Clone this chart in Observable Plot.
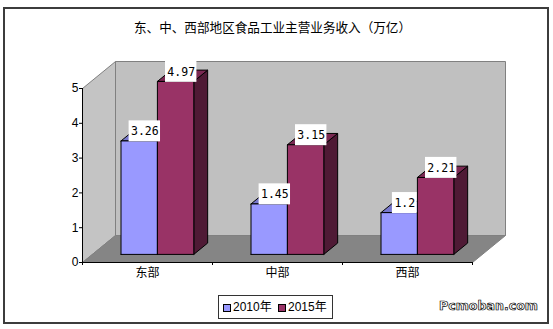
<!DOCTYPE html>
<html><head><meta charset="utf-8">
<script src="https://cdn.jsdelivr.net/npm/d3@7"></script>
<script src="https://cdn.jsdelivr.net/npm/@observablehq/plot@0.6"></script>
<style>
html,body{margin:0;padding:0;background:#fff;}
#wrap{position:relative;width:553px;height:329px;overflow:hidden;background:#fff;}
#border{position:absolute;left:3px;top:7px;width:542px;height:313px;border:2px solid #3c3c3c;}
#title{position:absolute;left:0;width:545px;top:19px;line-height:16px;text-align:center;font-family:"Noto Sans CJK SC",sans-serif;font-size:12.6px;color:#000;}
#chart{position:absolute;left:0;top:0;}
#legend{position:absolute;left:218px;top:295px;width:113px;height:22px;border:1px solid #333;background:#fff;font-family:"Liberation Sans","Noto Sans CJK SC",sans-serif;font-size:12px;line-height:22px;}
#legend .sw{position:absolute;top:8px;width:6px;height:6px;border:1px solid #000;}
#legend .lb{position:absolute;top:0;}
#wm{position:absolute;left:439px;top:298px;font-family:"DejaVu Sans",sans-serif;font-size:12.6px;font-weight:bold;color:#fff;-webkit-text-stroke:0.7px #000;line-height:16px;}
</style></head>
<body>
<div id="wrap">
  <div id="border"></div>
  <div id="chart"></div>
  <div id="title"></div>
  <div id="legend"></div>
  <div id="wm">Pcmoban.com</div>
</div>
<script>
// ---- data ----
const titleText = "东、中、西部地区食品工业主营业务收入（万亿）";
const categories = ["东部", "中部", "西部"];
const seriesNames = ["2010年", "2015年"];
const values2010 = [3.26, 1.45, 1.2];
const values2015 = [4.97, 3.15, 2.21];
const yTicks = [0, 1, 2, 3, 4, 5];

// ---- styles ----
const frontColors = ["#9999FF", "#993366"];
const topColors = ["#7777CC", "#7A2952"];
const sideColors = ["#555599", "#4F1A35"];

// ---- layout ----
const W = 553, H = 329, mL = 82, mR = 81, mT = 88, mB = 67;
const yMax = 5;
const pxX = (W - mL - mR) / categories.length; // px per category unit
const pxY = (H - mT - mB) / yMax;             // px per value unit
const DX = 33 / pxX, DY = 27 / pxY;           // full depth offset in data units
const D0 = 0.3, D1 = 0.72, BW = 0.28;         // bar depth range & width

const P = (x, y, d) => ({x: x + d * DX, y: y + d * DY});

// walls
const nC = categories.length;
const wallDefs = [
  {id: "back", fill: "#C0C0C0", pts: [P(0,0,1), P(nC,0,1), P(nC,yMax,1), P(0,yMax,1), P(0,0,1)]},
  {id: "side", fill: "#C4C4C4", pts: [P(0,0,0), P(0,0,1), P(0,yMax,1), P(0,yMax,0), P(0,0,0)]},
  {id: "floor", fill: "#858585", pts: [P(0,0,0), P(nC,0,0), P(nC,0,1), P(0,0,1), P(0,0,0)]}
];
const walls = wallDefs.flatMap(w => w.pts.map(p => ({...p, id: w.id, fill: w.fill})));

// bars
const seriesValues = [values2010, values2015];
const bars = [];
categories.forEach((c, i) => {
  seriesValues.forEach((vals, j) => {
    const a = i + 0.5 - BW + j * BW, b = a + BW, v = vals[i];
    bars.push({c, s: seriesNames[j], j, a, b, v});
  });
});
const faces = [];
for (const kind of ["side", "top", "front"]) {
  bars.forEach((br, k) => {
    const {a, b, v, j} = br;
    let pts, fill;
    if (kind === "side") { pts = [P(b,0,D0), P(b,0,D1), P(b,v,D1), P(b,v,D0), P(b,0,D0)]; fill = sideColors[j]; }
    if (kind === "top") { pts = [P(a,v,D0), P(b,v,D0), P(b,v,D1), P(a,v,D1), P(a,v,D0)]; fill = topColors[j]; }
    if (kind === "front") { pts = [P(a,0,D0), P(b,0,D0), P(b,v,D0), P(a,v,D0), P(a,0,D0)]; fill = frontColors[j]; }
    pts.forEach(p => faces.push({...p, id: kind + k, fill}));
  });
}

// labels
const LD = 0.47;
const labels = bars.map(br => {
  const t = String(br.v);
  const c = P((br.a + br.b) / 2, br.v, LD);
  const cy = c.y + 5 / pxY;
  const hw = (t.length * 6.6 + 5) / 2 / pxX, hh = 10.5 / pxY;
  return {t, x: c.x, y: cy, x1: c.x - hw, x2: c.x + hw, y1: cy - hh, y2: cy + hh};
});

const plot = Plot.plot({
  width: W, height: H,
  marginLeft: mL, marginRight: mR, marginTop: mT, marginBottom: mB,
  x: {domain: [0, nC], axis: null},
  y: {domain: [0, yMax], axis: null},
  color: {type: "identity"},
  style: {background: "transparent", fontFamily: "Liberation Sans, sans-serif", fontSize: "12px", overflow: "visible"},
  marks: [
    Plot.line(walls, {x: "x", y: "y", z: "id", fill: "fill", stroke: "#808080", strokeWidth: 1}),
    Plot.ruleX([0], {y1: 0, y2: yMax, stroke: "#000", strokeWidth: 1}),
    Plot.ruleY([0], {x1: 0, x2: nC, stroke: "#000", strokeWidth: 1}),
    Plot.axisY(yTicks, {tickSize: 3, tickPadding: 1, stroke: "#000", fill: "#000", fontSize: 12, fontFamily: "Liberation Sans, sans-serif", label: null}),
    Plot.axisX(d3.range(nC + 1), {tickSize: 3, tickFormat: () => "", stroke: "#000", label: null}),
    Plot.axisX(categories.map((c, i) => i + 0.5), {tickSize: 0, tickPadding: 6, tickFormat: v => categories[Math.floor(v)], fill: "#000", fontSize: 12, fontFamily: "Noto Sans CJK SC, sans-serif", label: null}),
    Plot.line(faces, {x: "x", y: "y", z: "id", fill: "fill", stroke: "#000", strokeWidth: 1, strokeLinejoin: "miter"}),
    Plot.rect(labels, {x1: "x1", x2: "x2", y1: "y1", y2: "y2", fill: "#fff"}),
    Plot.text(labels, {x: "x", y: "y", text: "t", fill: "#000", fontSize: 11.5, fontFamily: "DejaVu Sans Mono, monospace"})
  ]
});
document.getElementById("chart").appendChild(plot);
document.getElementById("title").textContent = titleText;

// legend
const lg = document.getElementById("legend");
const swX = [4, 59], lbX = [14, 69];
seriesNames.forEach((s, j) => {
  const sw = document.createElement("div");
  sw.className = "sw"; sw.style.left = swX[j] + "px"; sw.style.background = frontColors[j];
  const lb = document.createElement("div");
  lb.className = "lb"; lb.style.left = lbX[j] + "px"; lb.textContent = s;
  lg.appendChild(sw); lg.appendChild(lb);
});
</script>
</body></html>
